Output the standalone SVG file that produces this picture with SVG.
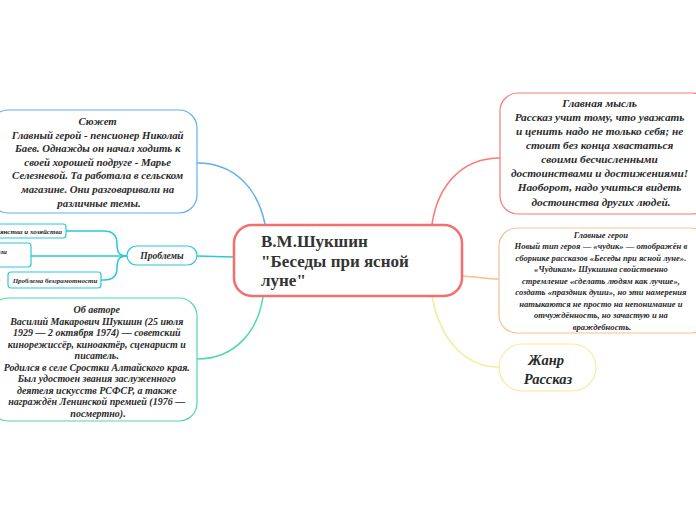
<svg xmlns="http://www.w3.org/2000/svg" width="696" height="520" viewBox="0 0 696 520">
<style>
.t{font-family:"Liberation Serif","DejaVu Serif",serif;font-style:italic;font-weight:bold;fill:#2a2a2a;text-anchor:middle}
.c{fill:none;stroke-width:1.5}
.n{fill:#fff}
</style>
<rect width="696" height="520" fill="#fff"/>
<g id="connectors">
<path class="c" stroke="#5fb0f2" d="M197,163 C236,163 258,190 265,224"/>
<path class="c" stroke="#4fd9aa" d="M197,359 C236,359 258,330 263,297"/>
<path class="c" stroke="#2bc8d6" d="M197,256 L233,257"/>
<path class="c" stroke="#2bc8d6" d="M127,256 L31,256"/>
<path class="c" stroke="#2bc8d6" d="M127,256 C119,256 117,252 117,244 Q117,231 104,231 L66,231"/>
<path class="c" stroke="#2bc8d6" d="M127,256 C119,256 117,260 117,268 Q117,280 104,280 L101,280"/>
<path class="c" stroke="#f77b7b" d="M432,224 C438,185 462,158 500,158"/>
<path class="c" stroke="#f8bf8f" d="M462,276 C478,277 488,279 499,279"/>
<path class="c" stroke="#f6eb9c" d="M432,296 C440,340 465,367 499,367"/>
</g>
<g id="central">
<rect x="234" y="225" width="228" height="71" rx="18" fill="#fff" stroke="#f66d6d" stroke-width="2.5"/>
<text font-family="Liberation Serif, serif" font-weight="bold" font-size="17" fill="#333">
<tspan x="261" y="247">В.М.Шукшин</tspan>
<tspan x="261" y="267">"Беседы при ясной</tspan>
<tspan x="261" y="286">луне"</tspan>
</text>
</g>
<g id="plot">
<rect class="n" x="-10" y="110" width="207" height="103" rx="18" stroke="#5fb0f2" stroke-width="1.2"/>
<text class="t" font-size="10.8">
<tspan x="99" y="125">Сюжет</tspan>
<tspan x="99" y="138.6">Главный герой - пенсионер Николай</tspan>
<tspan x="99" y="152.2">Баев. Однажды он начал ходить к</tspan>
<tspan x="99" y="165.8">своей хорошей подруге - Марье</tspan>
<tspan x="99" y="179.4">Селезневой. Та работала в сельском</tspan>
<tspan x="99" y="193">магазине. Они разговаривали на</tspan>
<tspan x="99" y="206.6">различные темы.</tspan>
</text>
</g>
<g id="author">
<rect class="n" x="-10" y="298" width="207" height="123" rx="18" stroke="#4fd9aa" stroke-width="1.2"/>
<text class="t" font-size="10">
<tspan x="98" y="313">Об авторе</tspan>
<tspan x="98" y="324.5">Василий Макарович Шукшин (25 июля</tspan>
<tspan x="98" y="336">1929 — 2 октября 1974) — советский</tspan>
<tspan x="98" y="347.5">кинорежиссёр, киноактёр, сценарист и</tspan>
<tspan x="98" y="359">писатель.</tspan>
<tspan x="98" y="370.5">Родился в селе Сростки Алтайского края.</tspan>
<tspan x="98" y="382">Был удостоен звания заслуженного</tspan>
<tspan x="98" y="393.5">деятеля искусств РСФСР, а также</tspan>
<tspan x="98" y="405">награждён Ленинской премией (1976 —</tspan>
<tspan x="98" y="416.5">посмертно).</tspan>
</text>
</g>
<g id="problems">
<rect class="n" x="127" y="246" width="70" height="19" rx="9.5" stroke="#2bc8d6" stroke-width="1.2"/>
<text class="t" font-size="9.5" x="162" y="259">Проблемы</text>
</g>
<g id="problem1">
<rect class="n" x="-40" y="224" width="106" height="14" rx="3" stroke="#2bc8d6" stroke-width="1.2"/>
<text class="t" font-size="7" x="62" y="234" style="text-anchor:end">Проблема крестьянства и хозяйства</text>
</g>
<g id="problem2">
<rect class="n" x="-40" y="243" width="71" height="24" rx="3" stroke="#2bc8d6" stroke-width="1.2"/>
<text class="t" font-size="7" x="7" y="254" style="text-anchor:end">Проблема морали</text>
</g>
<g id="problem3">
<rect class="n" x="8" y="272" width="93" height="16" rx="3" stroke="#2bc8d6" stroke-width="1.2"/>
<text class="t" font-size="7" x="55" y="283">Проблема безграмотности</text>
</g>
<g id="mainidea">
<rect class="n" x="500" y="93" width="210" height="121" rx="18" stroke="#f77b7b" stroke-width="1.2"/>
<text class="t" font-size="11.3">
<tspan x="601" y="107">Главная мысль</tspan>
<tspan x="601" y="121">Рассказ учит тому, что уважать</tspan>
<tspan x="601" y="135">и ценить надо не только себя; не</tspan>
<tspan x="601" y="149">стоит без конца хвастаться</tspan>
<tspan x="601" y="163">своими бесчисленными</tspan>
<tspan x="601" y="177">достоинствами и достижениями!</tspan>
<tspan x="601" y="191">Наоборот, надо учиться видеть</tspan>
<tspan x="601" y="206">достоинства других людей.</tspan>
</text>
</g>
<g id="heroes">
<rect class="n" x="499" y="228" width="210" height="105" rx="18" stroke="#f8bf8f" stroke-width="1.2"/>
<text class="t" font-size="8.6">
<tspan x="602" y="237.5">Главные герои</tspan>
<tspan x="602" y="249">Новый тип героя — «чудик» — отображён в</tspan>
<tspan x="602" y="260.5">сборнике рассказов «Беседы при ясной луне».</tspan>
<tspan x="602" y="272">«Чудикам» Шукшина свойственно</tspan>
<tspan x="602" y="283.5">стремление «сделать людям как лучше»,</tspan>
<tspan x="602" y="295">создать «праздник души», но эти намерения</tspan>
<tspan x="602" y="306.5">натыкаются не просто на непонимание и</tspan>
<tspan x="602" y="318">отчуждённость, но зачастую и на</tspan>
<tspan x="602" y="329.5">враждебность.</tspan>
</text>
</g>
<g id="genre">
<rect class="n" x="499" y="344" width="97" height="47" rx="23.5" stroke="#f6eb9c" stroke-width="1.2"/>
<text class="t" font-size="14.5">
<tspan x="548" y="365">Жанр</tspan>
<tspan x="548" y="384">Рассказ</tspan>
</text>
</g>
</svg>
